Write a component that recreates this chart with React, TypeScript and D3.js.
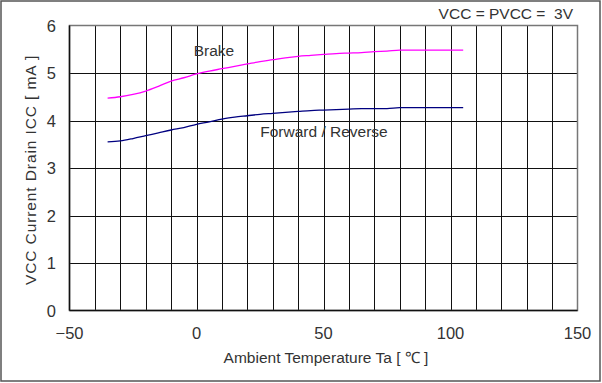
import React, { useRef, useEffect } from "react";
import * as d3 from "d3";

const temps = [-35, -30, -25, -20, -15, -10, -5, 0, 5, 10, 15, 20, 25, 30, 35, 40, 45, 50, 55, 60, 65, 70, 75, 80, 85, 90, 95, 100, 105];
const brake = [4.47, 4.5, 4.55, 4.62, 4.72, 4.83, 4.9, 4.98, 5.04, 5.09, 5.14, 5.19, 5.24, 5.28, 5.32, 5.35, 5.37, 5.39, 5.41, 5.42, 5.43, 5.45, 5.46, 5.48, 5.48, 5.48, 5.48, 5.48, 5.48];
const forward = [3.55, 3.57, 3.62, 3.68, 3.74, 3.8, 3.85, 3.92, 3.97, 4.03, 4.07, 4.1, 4.13, 4.15, 4.17, 4.19, 4.21, 4.22, 4.23, 4.24, 4.25, 4.25, 4.25, 4.27, 4.27, 4.27, 4.27, 4.27, 4.27];
const xTicks = [-50, 0, 50, 100, 150];
const yTicks = [0, 1, 2, 3, 4, 5, 6];

function Chart() {
  const svgRef = useRef(null);

  useEffect(() => {
    const svg = d3.select(svgRef.current);
    svg.selectAll("*").remove();
    const font = "'Liberation Sans', Arial, sans-serif";
    const x = d3.scaleLinear().domain([-50, 150]).range([69.5, 577.5]);
    const y = d3.scaleLinear().domain([0, 6]).range([310.5, 25.5]);

    svg.append("rect").attr("x", 1).attr("y", 1).attr("width", 599).attr("height", 380)
      .attr("fill", "white").attr("stroke", "#555").attr("stroke-width", 1.5);

    const g = svg.append("g");
    // vertical grid every 10
    g.selectAll(".vg").data(d3.range(-40, 150, 10)).join("line")
      .attr("x1", (d) => Math.round(x(d)) + 0.5).attr("x2", (d) => Math.round(x(d)) + 0.5)
      .attr("y1", y(6)).attr("y2", y(0)).attr("stroke", "#111").attr("stroke-width", 1);
    g.selectAll(".hg").data(d3.range(1, 6)).join("line")
      .attr("x1", x(-50)).attr("x2", x(150))
      .attr("y1", (d) => Math.round(y(d)) + 0.5).attr("y2", (d) => Math.round(y(d)) + 0.5)
      .attr("stroke", "#111").attr("stroke-width", 1);
    // border
    g.append("rect").attr("x", x(-50)).attr("y", y(6)).attr("width", x(150) - x(-50)).attr("height", y(0) - y(6))
      .attr("fill", "none").attr("stroke", "#777").attr("stroke-width", 1.5);
    g.append("line").attr("x1", x(-50)).attr("x2", x(-50)).attr("y1", y(6)).attr("y2", y(0)).attr("stroke", "#111").attr("stroke-width", 1.5);
    g.append("line").attr("x1", x(-50)).attr("x2", x(150)).attr("y1", y(0)).attr("y2", y(0)).attr("stroke", "#111").attr("stroke-width", 1.5);

    const line = d3.line<number>().x((d, i) => x(temps[i])).y((d) => y(d)).curve(d3.curveMonotoneX);
    g.append("path").attr("d", line(brake)).attr("fill", "none").attr("stroke", "#ff00ff").attr("stroke-width", 1.3);
    g.append("path").attr("d", line(forward)).attr("fill", "none").attr("stroke", "#000080").attr("stroke-width", 1.3);

    g.selectAll(".xt").data(xTicks).join("text")
      .attr("x", (d) => x(d)).attr("y", 339).attr("text-anchor", "middle")
      .attr("font-family", font).attr("font-size", 16.5).attr("fill", "#333")
      .text((d) => (d < 0 ? "\u2212" + Math.abs(d) : String(d)));
    g.selectAll(".yt").data(yTicks).join("text")
      .attr("x", 56).attr("y", (d) => y(d) + 6).attr("text-anchor", "end")
      .attr("font-family", font).attr("font-size", 16.5).attr("fill", "#333")
      .text((d) => String(d));

    svg.append("text").attr("x", 326).attr("y", 363).attr("text-anchor", "middle")
      .attr("font-family", font).attr("font-size", 15.5).attr("fill", "#333")
      .attr("xml:space", "preserve").style("white-space", "pre")
      .text("Ambient Temperature Ta [ \u2103 ]");
    svg.append("text").attr("transform", "translate(36,170) rotate(-90)").attr("text-anchor", "middle")
      .attr("font-family", font).attr("font-size", 15.5).attr("fill", "#333")
      .attr("letter-spacing", 0.9).attr("xml:space", "preserve").style("white-space", "pre")
      .text("VCC Current Drain ICC [ mA ]");
    svg.append("text").attr("x", 573).attr("y", 19).attr("text-anchor", "end")
      .attr("font-family", font).attr("font-size", 15.5).attr("fill", "#333")
      .attr("xml:space", "preserve").style("white-space", "pre")
      .text("VCC = PVCC =  3V");
    svg.append("text").attr("x", 214).attr("y", 56).attr("text-anchor", "middle")
      .attr("font-family", font).attr("font-size", 15.5).attr("fill", "#333").text("Brake");
    svg.append("text").attr("x", 324).attr("y", 137).attr("text-anchor", "middle")
      .attr("font-family", font).attr("font-size", 15.5).attr("fill", "#333").text("Forward / Reverse");
  }, []);

  return <svg ref={svgRef} width={602} height={383} style={{ display: "block" }} />;
}

export default function App() {
  return (
    <div style={{ position: "absolute", left: 0, top: 0 }}>
      <Chart />
    </div>
  );
}
